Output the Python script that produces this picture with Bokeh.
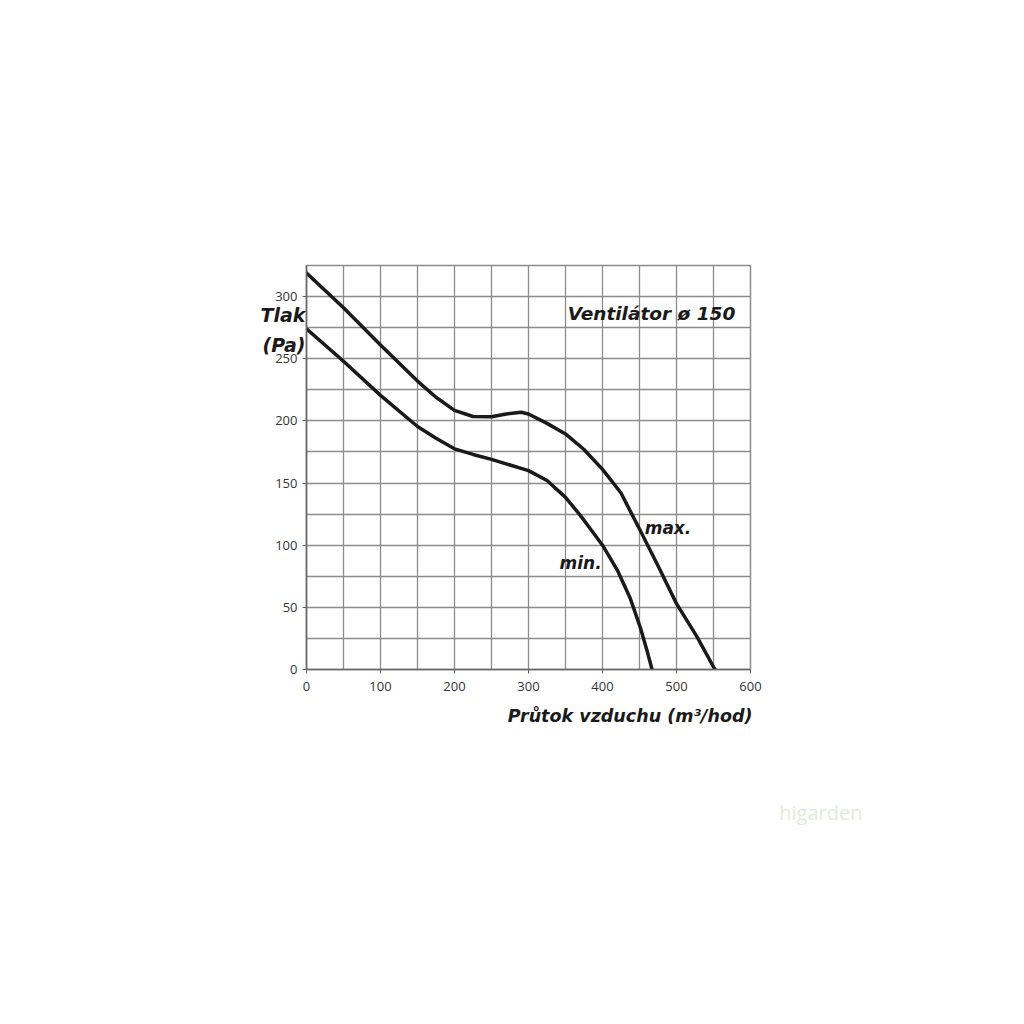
from bokeh.plotting import figure
from bokeh.models import Range1d, FixedTicker, Label, Title, LinearAxis
from bokeh.embed import file_html
from bokeh.resources import INLINE

# --- data ---
max_x = [0, 50, 100, 150, 175, 200, 225, 250, 270, 290, 300, 325, 350, 375, 400, 412, 425, 437, 450, 477, 500, 527, 552]
max_y = [319, 291, 261, 232, 219, 208.5, 203.5, 203.3, 205.5, 207, 205.5, 198, 189.5, 177, 161, 152, 142, 128, 113, 81, 53, 27, 0]

min_x = [0, 50, 100, 150, 175, 200, 225, 250, 275, 300, 325, 350, 370, 385, 400, 420, 437, 451, 460, 467]
min_y = [274, 248, 220.5, 195.5, 186, 177.5, 173, 169, 164.5, 160, 152, 138.5, 124, 112, 100, 80, 58, 34, 15.5, 0]

x_ticks = [0, 100, 200, 300, 400, 500, 600]
y_ticks = [0, 50, 100, 150, 200, 250, 300]
x_grid = [0, 50, 100, 150, 200, 250, 300, 350, 400, 450, 500, 550, 600]
y_grid = [0, 25, 50, 75, 100, 125, 150, 175, 200, 225, 250, 275, 300, 325]

title_text = "Ventilátor ø 150"
y_title_lines = ["Tlak", "(Pa)"]
x_title = "Průtok vzduchu (m³/hod)"
label_max = "max."
label_min = "min."
watermark = "higarden"

GRID = "#8c8c8c"
TXT = "#333333"
BOLD_FONT = "DejaVu Sans"

p = figure(frame_width=444, frame_height=404,
           x_range=Range1d(0, 600), y_range=Range1d(0, 325),
           output_backend="svg", toolbar_location=None,
           min_border_left=306, min_border_top=265,
           min_border_right=240, min_border_bottom=300)

p.background_fill_color = "white"
p.border_fill_color = "white"
p.outline_line_color = GRID
p.outline_line_width = 1.5

p.xaxis.ticker = FixedTicker(ticks=x_ticks)
p.yaxis.ticker = FixedTicker(ticks=y_ticks)
p.xgrid.ticker = FixedTicker(ticks=x_grid)
p.ygrid.ticker = FixedTicker(ticks=y_grid)
for g in (p.xgrid, p.ygrid):
    g.grid_line_color = GRID
    g.grid_line_width = 1.3

for ax in (p.xaxis, p.yaxis):
    ax.axis_line_color = "#666666"
    ax.axis_line_width = 1.5
    ax.major_tick_line_color = "#666666"
    ax.major_tick_out = 4
    ax.major_tick_in = 0
    ax.minor_tick_line_color = None
    ax.major_label_text_font = "Open Sans"
    ax.major_label_text_font_size = "13px"
    ax.major_label_text_color = TXT
p.xaxis.major_label_standoff = 8
p.yaxis.major_label_standoff = 5

# y title: an extra, invisible left axis whose horizontal label sits beside the top of the axis
# (padded with blank lines below so that the two words sit near the top of the frame)
y_title = "\n".join(y_title_lines + [" "] * 9)
yt_axis = LinearAxis(ticker=FixedTicker(ticks=[]),
                     axis_line_color=None, major_tick_line_color=None,
                     minor_tick_line_color=None, major_label_text_font_size="0px",
                     axis_label=y_title, axis_label_orientation="horizontal",
                     axis_label_text_font=BOLD_FONT, axis_label_text_font_size="19px",
                     axis_label_text_font_style="bold italic",
                     axis_label_text_color="#1a1a1a",
                     axis_label_text_line_height=1.39,
                     axis_label_standoff=-33)
p.add_layout(yt_axis, "left")

p.line(max_x, max_y, line_color="#1a1a1a", line_width=3.5, line_join="round", line_cap="round")
p.line(min_x, min_y, line_color="#1a1a1a", line_width=3.5, line_join="round", line_cap="round")

def lab(x, y, text, size):
    p.add_layout(Label(x=x, y=y, text=text, text_font=BOLD_FONT,
                       text_font_size=size, text_font_style="bold italic", text_color="#1a1a1a",
                       text_align="left", text_baseline="middle"))

lab(353, 286, title_text, "18.5px")
lab(457, 114, label_max, "17px")
lab(342, 86, label_min, "17px")

p.add_layout(Title(text=x_title, align="right", text_font=BOLD_FONT, text_font_size="17.5px",
                   text_font_style="bold italic", text_color="#1a1a1a", standoff=20, offset=-2), "below")
p.add_layout(Title(text=watermark, align="right", text_font="Open Sans", text_font_size="20px",
                   text_font_style="normal", text_color="#e3ebd8", standoff=122, offset=-112), "below")

open("out.html", "w").write(file_html(p, INLINE))
